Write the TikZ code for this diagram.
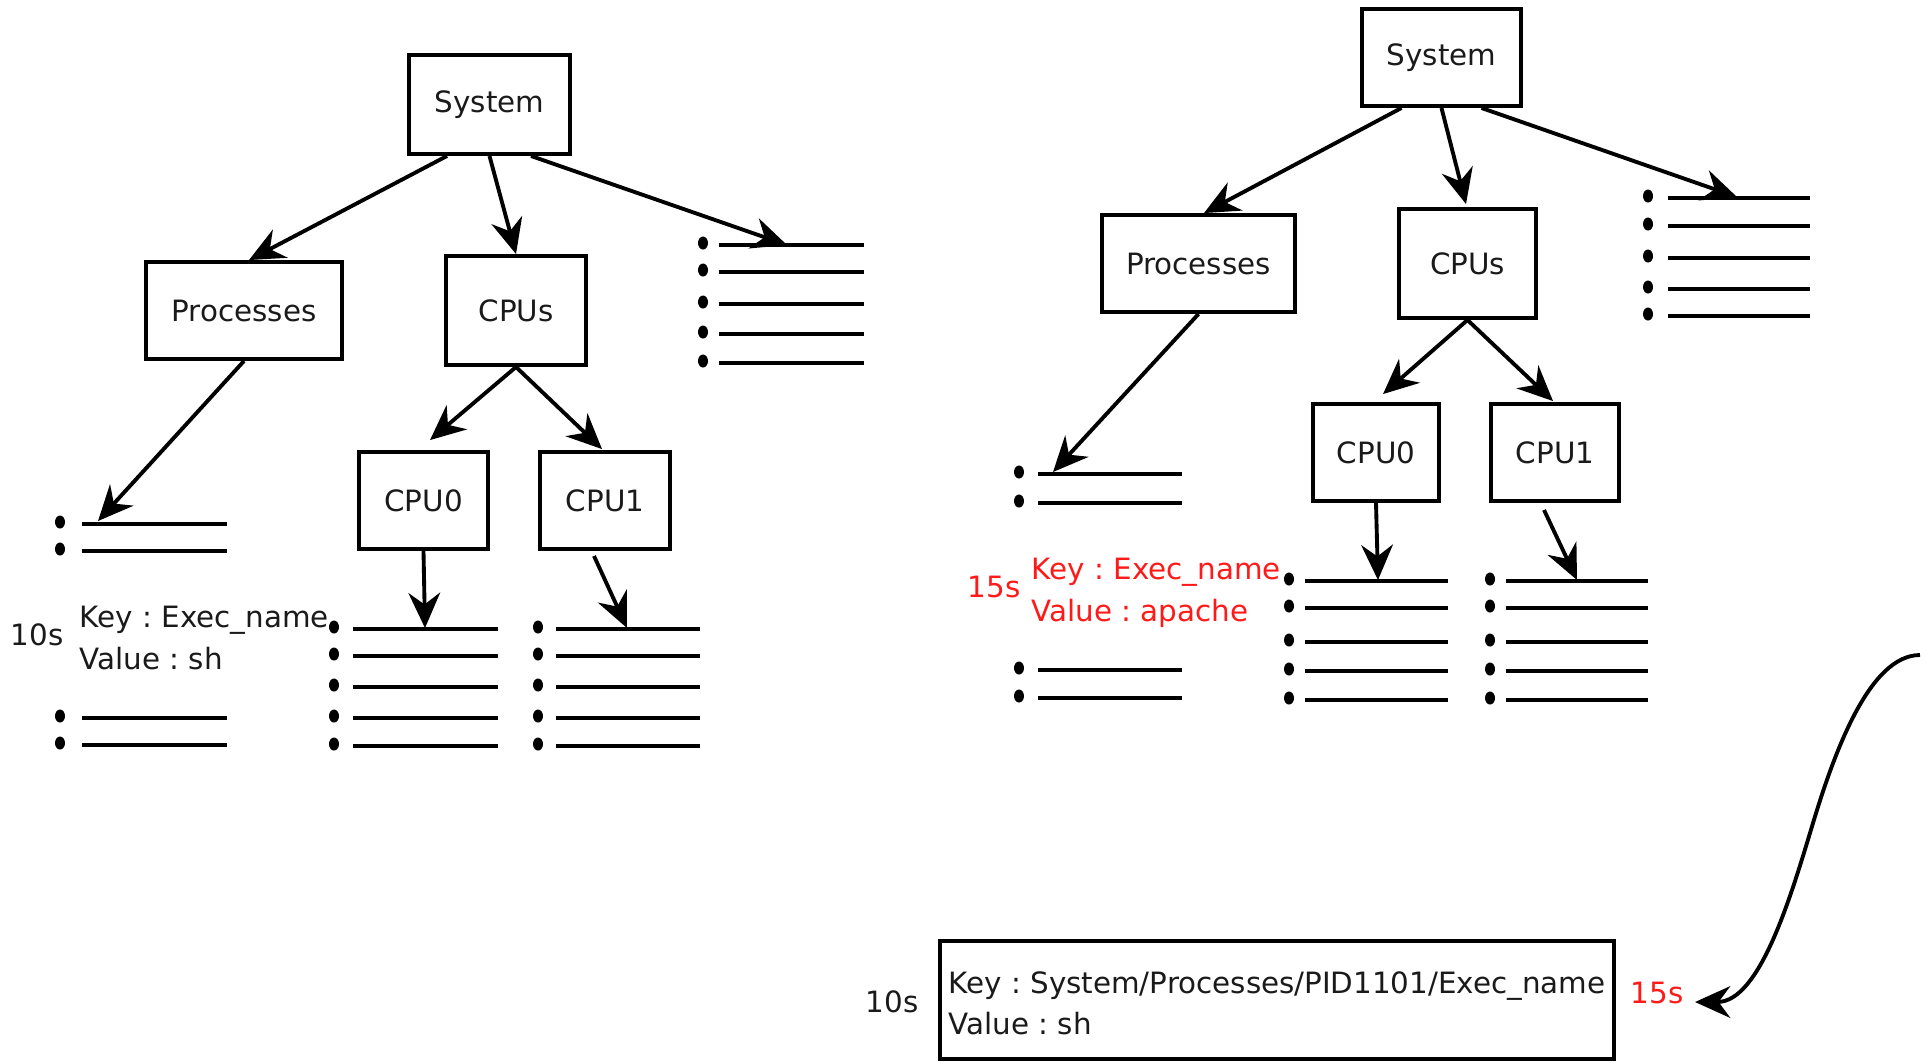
\documentclass[tikz,border=0pt]{standalone}
\usepackage{fontspec}
\setmainfont{DejaVu Sans}
\usetikzlibrary{arrows.meta}
\definecolor{txt}{HTML}{1A1A1A}
\definecolor{redtxt}{HTML}{FF1A1A}
\frenchspacing
\newcommand\blist[4]{%
  \foreach \yy in {#4} {%
    \fill[black] (#1,\yy-2) ellipse [x radius=0.05cm, y radius=0.065cm];
    \draw[lst] (#2,\yy) -- (#3,\yy);
  }}
\begin{document}
\begin{tikzpicture}[x=0.01cm,y=-0.01cm,
  font=\fontsize{8.35}{11.8}\selectfont,
  box/.style={draw, line width=1.1pt, inner sep=0pt, text=txt, align=center},
  arr/.style={-{Stealth[length=10pt,width=9pt,inset=3.3pt]}, line width=1.1pt},
  lst/.style={line width=1.1pt},
  lbl/.style={text=txt, inner sep=0pt},
  redlbl/.style={text=redtxt, inner sep=0pt}]
\useasboundingbox (0,0) rectangle (1927,1062);

% ---------- left tree ----------
\node[box, minimum width=1.61cm, minimum height=0.99cm] (sysL) at (489.5,104.5) {System};
\node[box, minimum width=1.96cm, minimum height=0.97cm] (procL) at (244,310.5) {Processes};
\node[box, minimum width=1.40cm, minimum height=1.09cm] (cpusL) at (516,310.5) {CPUs};
\node[box, minimum width=1.29cm, minimum height=0.97cm] (cpu0L) at (423.5,500.5) {CPU0};
\node[box, minimum width=1.30cm, minimum height=0.97cm] (cpu1L) at (605,500.5) {CPU1};

\blist{703}{719}{864}{245,272,304,334,363}
\blist{60}{82}{227}{524,551,718,745}
\blist{334}{353}{498}{629,656,687,718,746}
\blist{538}{556}{700}{629,656,687,718,746}

\coordinate (lLtop) at (787,245);
\coordinate (lLproc) at (98,521);
\coordinate (lLcpu0) at (425,628);
\coordinate (lLcpu1) at (627,628);

\draw[arr] ([xshift=-0.425cm]sysL.south) -- ([xshift=0.05cm]procL.north);
\draw[arr] (sysL.south) -- (cpusL.north);
\draw[arr] ([xshift=0.415cm]sysL.south) -- (lLtop);
\draw[arr] (procL.south) -- (lLproc);
\draw[arr] (cpusL.south) -- ([xshift=0.065cm,yshift=0.1cm]cpu0L.north);
\draw[arr] (cpusL.south) -- ([xshift=-0.03cm,yshift=0.01cm]cpu1L.north);
\draw[arr] (cpu0L.south) -- (lLcpu0);
\draw[arr] ([xshift=-0.11cm,yshift=-0.05cm]cpu1L.south) -- (lLcpu1);

\node[lbl] (t10a) at (37,635) {10s};
\node[lbl, anchor=west, align=left] (kvL) at (79,638) {Key : Exec\_name\\Value : sh};

% ---------- right tree ----------
\node[box, minimum width=1.59cm, minimum height=0.97cm] (sysR) at (1441.5,57.5) {System};
\node[box, minimum width=1.93cm, minimum height=0.97cm] (procR) at (1198.5,263.5) {Processes};
\node[box, minimum width=1.37cm, minimum height=1.09cm] (cpusR) at (1467.5,263.5) {CPUs};
\node[box, minimum width=1.26cm, minimum height=0.97cm] (cpu0R) at (1376,452.5) {CPU0};
\node[box, minimum width=1.28cm, minimum height=0.97cm] (cpu1R) at (1555,452.5) {CPU1};

\blist{1648}{1668}{1810}{198,226,258,289,316}
\blist{1019}{1038}{1182}{474,503,670,698}
\blist{1289}{1305}{1448}{581,608,642,671,700}
\blist{1490}{1506}{1648}{581,608,642,671,700}

\coordinate (rLtop) at (1737,197);
\coordinate (rLproc) at (1053,472);
\coordinate (rLcpu0) at (1378,580);
\coordinate (rLcpu1) at (1577,580);

\draw[arr] ([xshift=-0.40cm]sysR.south) -- ([xshift=0.055cm]procR.north);
\draw[arr] (sysR.south) -- ([xshift=-0.015cm,yshift=0.03cm]cpusR.north);
\draw[arr] ([xshift=0.40cm]sysR.south) -- (rLtop);
\draw[arr] (procR.south) -- (rLproc);
\draw[arr] (cpusR.south) -- ([xshift=0.07cm,yshift=0.08cm]cpu0R.north);
\draw[arr] (cpusR.south) -- ([xshift=-0.02cm,yshift=0.01cm]cpu1R.north);
\draw[arr] (cpu0R.south) -- (rLcpu0);
\draw[arr] ([xshift=-0.11cm,yshift=-0.07cm]cpu1R.south) -- (rLcpu1);

\node[redlbl] (t15a) at (994,587) {15s};
\node[redlbl, anchor=west, align=left] (kvR) at (1031,593) {Key : Exec\_name\\Value : apache};

% ---------- bottom record ----------
\node[box, minimum width=6.74cm, minimum height=1.18cm] (kvbox) at (1277,1000) {};
\node[lbl, anchor=west, align=left] (kvtext) at (948,1003.5) {Key : System/Processes/PID1101/Exec\_name\\Value : sh};
\node[lbl] (t10b) at (892,1002) {10s};
\node[redlbl] (t15b) at (1657,993) {15s};

\coordinate (cs) at (1920,655);
\coordinate (cmid) at (1813,823);
\draw[arr] (cs) .. controls (1870,655) and (1835,750) .. (cmid)
  .. controls (1791,896) and (1760,1002) .. ([xshift=0.11cm,yshift=-0.09cm]t15b.east);
\end{tikzpicture}
\end{document}
